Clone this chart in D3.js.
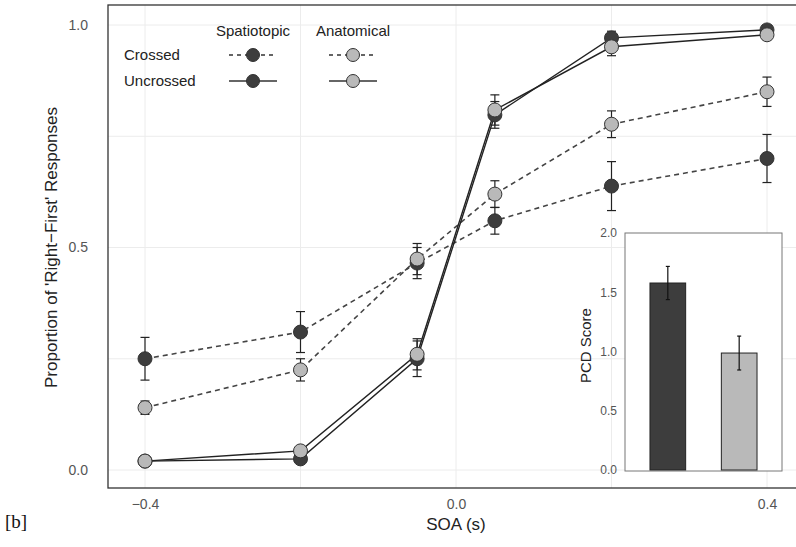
<!DOCTYPE html>
<html>
<head>
<meta charset="utf-8">
<script src="https://cdn.jsdelivr.net/npm/d3@7"></script>
<style>
  body { margin: 0; background: #fff; }
  svg { display: block; font-family: "Liberation Sans", Arial, sans-serif; }
  .tick text { fill: #555; }
</style>
</head>
<body>
<svg id="chart" width="796" height="547"></svg>
<script>
// SOA levels and mean proportions
const soa = [-0.4, -0.2, -0.05, 0.05, 0.2, 0.4];
const spatCrossed = [0.25, 0.31, 0.465, 0.56, 0.638, 0.70];
const spatCrossedErr = [0.048, 0.046, 0.035, 0.03, 0.055, 0.054];
const anatCrossed = [0.14, 0.225, 0.474, 0.62, 0.777, 0.85];
const anatCrossedErr = [0.015, 0.025, 0.035, 0.03, 0.03, 0.033];
const spatUncrossed = [0.02, 0.025, 0.25, 0.798, 0.971, 0.989];
const spatUncrossedErr = [0.005, 0.01, 0.04, 0.03, 0.015, 0.008];
const anatUncrossed = [0.02, 0.043, 0.26, 0.809, 0.951, 0.978];
const anatUncrossedErr = [0.005, 0.01, 0.035, 0.034, 0.02, 0.008];

const xTicks = [-0.4, 0, 0.4];
const xMinor = [-0.2, 0.2];
const yTicks = [0, 0.5, 1];
const yMinor = [0.25, 0.75];

// inset: PCD score per frame of reference
const pcdGroups = ["Spatiotopic", "Anatomical"];
const pcdScore = [1.578, 0.987];
const pcdErr = [0.14, 0.143];
const pcdTicks = [0, 0.5, 1, 1.5, 2];

const dark = "#3d3d3d", light = "#b9b9b9";

const svg = d3.select("#chart");

// main panel
const panel = { left: 108, top: 5, right: 800, bottom: 488 };
const x = d3.scaleLinear().domain([-0.4, 0.4]).range([145, 767]);
const y = d3.scaleLinear().domain([0, 1]).range([470, 25]);

// grid
const grid = svg.append("g").attr("stroke", "#ececec").attr("stroke-width", 1);
xTicks.concat(xMinor).forEach(function(v) {
  grid.append("line").attr("x1", x(v)).attr("x2", x(v))
    .attr("y1", panel.top).attr("y2", panel.bottom);
});
yTicks.concat(yMinor).forEach(function(v) {
  grid.append("line").attr("y1", y(v)).attr("y2", y(v))
    .attr("x1", panel.left).attr("x2", panel.right);
});

// axes
const xAxis = svg.append("g")
  .attr("transform", "translate(0," + panel.bottom + ")")
  .call(d3.axisBottom(x).tickValues(xTicks).tickSize(0).tickPadding(11).tickFormat(d3.format(".1f")));
xAxis.select(".domain").remove();
xAxis.selectAll("text").attr("font-size", 14);

const yAxis = svg.append("g")
  .attr("transform", "translate(" + panel.left + ",0)")
  .call(d3.axisLeft(y).tickValues(yTicks).tickSize(0).tickPadding(20).tickFormat(d3.format(".1f")));
yAxis.select(".domain").remove();
yAxis.selectAll("text").attr("font-size", 14);

svg.append("text")
  .attr("x", x(0)).attr("y", 530)
  .attr("text-anchor", "middle").attr("font-size", 17).attr("fill", "#222")
  .text("SOA (s)");

svg.append("text")
  .attr("transform", "translate(57," + y(0.5) + ") rotate(-90)")
  .attr("text-anchor", "middle").attr("font-size", 17).attr("fill", "#222")
  .text("Proportion of 'Right\u2212First' Responses");

svg.append("text")
  .attr("x", 5).attr("y", 528)
  .attr("font-family", "Liberation Serif, serif").attr("font-size", 19).attr("fill", "#111")
  .text("[b]");

// series
const series = [
  { vals: spatCrossed, err: spatCrossedErr, fill: dark, dash: "5,4" },
  { vals: anatCrossed, err: anatCrossedErr, fill: light, dash: "5,4" },
  { vals: spatUncrossed, err: spatUncrossedErr, fill: dark, dash: null },
  { vals: anatUncrossed, err: anatUncrossedErr, fill: light, dash: null }
];

const line = d3.line().x(function(d) { return x(d[0]); }).y(function(d) { return y(d[1]); });

// error bars
series.forEach(function(s) {
  const g = svg.append("g").attr("stroke", "#222").attr("stroke-width", 1.2);
  soa.forEach(function(t, i) {
    const lo = y(s.vals[i] - s.err[i]), hi = y(s.vals[i] + s.err[i]);
    g.append("line").attr("x1", x(t)).attr("x2", x(t)).attr("y1", lo).attr("y2", hi);
    g.append("line").attr("x1", x(t) - 4.5).attr("x2", x(t) + 4.5).attr("y1", lo).attr("y2", lo);
    g.append("line").attr("x1", x(t) - 4.5).attr("x2", x(t) + 4.5).attr("y1", hi).attr("y2", hi);
  });
});

// lines
series.forEach(function(s) {
  svg.append("path")
    .datum(soa.map(function(t, i) { return [t, s.vals[i]]; }))
    .attr("d", line)
    .attr("fill", "none")
    .attr("stroke", s.dash ? "#444" : "#222")
    .attr("stroke-width", s.dash ? 1.6 : 1.4)
    .attr("stroke-dasharray", s.dash);
});

// points
series.forEach(function(s) {
  svg.append("g").selectAll("circle")
    .data(soa)
    .join("circle")
    .attr("cx", function(d) { return x(d); })
    .attr("cy", function(d, i) { return y(s.vals[i]); })
    .attr("r", 7)
    .attr("fill", s.fill)
    .attr("stroke", "#333")
    .attr("stroke-width", 1);
});

// panel border
svg.append("rect")
  .attr("x", panel.left).attr("y", panel.top)
  .attr("width", panel.right - panel.left).attr("height", panel.bottom - panel.top)
  .attr("fill", "none").attr("stroke", "#333").attr("stroke-width", 1.3);

// legend
const legend = svg.append("g").attr("font-size", 15).attr("fill", "#222");
const legCols = [{ name: "Spatiotopic", cx: 253, fill: dark }, { name: "Anatomical", cx: 353, fill: light }];
const legRows = [{ name: "Crossed", cy: 55, dash: "4,4" }, { name: "Uncrossed", cy: 81, dash: null }];
legCols.forEach(function(c) {
  legend.append("text").attr("x", c.cx).attr("y", 36).attr("text-anchor", "middle").text(c.name);
});
legRows.forEach(function(r) {
  legend.append("text").attr("x", 124).attr("y", r.cy + 5).text(r.name);
  legCols.forEach(function(c) {
    legend.append("line")
      .attr("x1", c.cx - 24).attr("x2", c.cx + 24).attr("y1", r.cy).attr("y2", r.cy)
      .attr("stroke", "#333").attr("stroke-width", 1.4).attr("stroke-dasharray", r.dash);
    legend.append("circle").attr("cx", c.cx).attr("cy", r.cy).attr("r", 6.5)
      .attr("fill", c.fill).attr("stroke", "#333");
  });
});

// inset bar chart
const inset = { left: 625, top: 233, right: 782, bottom: 471 };
const ix = d3.scaleBand().domain(pcdGroups).range([inset.left, inset.right]).paddingInner(0.5).paddingOuter(0.35);
const iy = d3.scaleLinear().domain([0, 2]).range([470, 233]);

svg.append("rect")
  .attr("x", inset.left).attr("y", inset.top)
  .attr("width", inset.right - inset.left).attr("height", inset.bottom - inset.top)
  .attr("fill", "#fff").attr("stroke", "#777").attr("stroke-width", 1);

svg.append("g").selectAll("rect")
  .data(pcdGroups)
  .join("rect")
  .attr("x", function(d) { return ix(d); })
  .attr("width", ix.bandwidth())
  .attr("y", function(d, i) { return iy(pcdScore[i]); })
  .attr("height", function(d, i) { return iy(0) - iy(pcdScore[i]); })
  .attr("fill", function(d, i) { return i === 0 ? dark : light; })
  .attr("stroke", "#222").attr("stroke-width", 1);

const ieb = svg.append("g").attr("stroke", "#111").attr("stroke-width", 1.2);
pcdGroups.forEach(function(gname, i) {
  const cx = ix(gname) + ix.bandwidth() / 2;
  const lo = iy(pcdScore[i] - pcdErr[i]), hi = iy(pcdScore[i] + pcdErr[i]);
  ieb.append("line").attr("x1", cx).attr("x2", cx).attr("y1", lo).attr("y2", hi);
  ieb.append("line").attr("x1", cx - 2).attr("x2", cx + 2).attr("y1", lo).attr("y2", lo);
  ieb.append("line").attr("x1", cx - 2).attr("x2", cx + 2).attr("y1", hi).attr("y2", hi);
});

const iyAxis = svg.append("g")
  .attr("transform", "translate(" + inset.left + ",0)")
  .call(d3.axisLeft(iy).tickValues(pcdTicks).tickSize(0).tickPadding(8).tickFormat(d3.format(".1f")));
iyAxis.select(".domain").remove();
iyAxis.selectAll("text").attr("font-size", 12);

svg.append("text")
  .attr("transform", "translate(591," + iy(1.05) + ") rotate(-90)")
  .attr("text-anchor", "middle").attr("font-size", 15).attr("fill", "#222")
  .text("PCD Score");
</script>
</body>
</html>
